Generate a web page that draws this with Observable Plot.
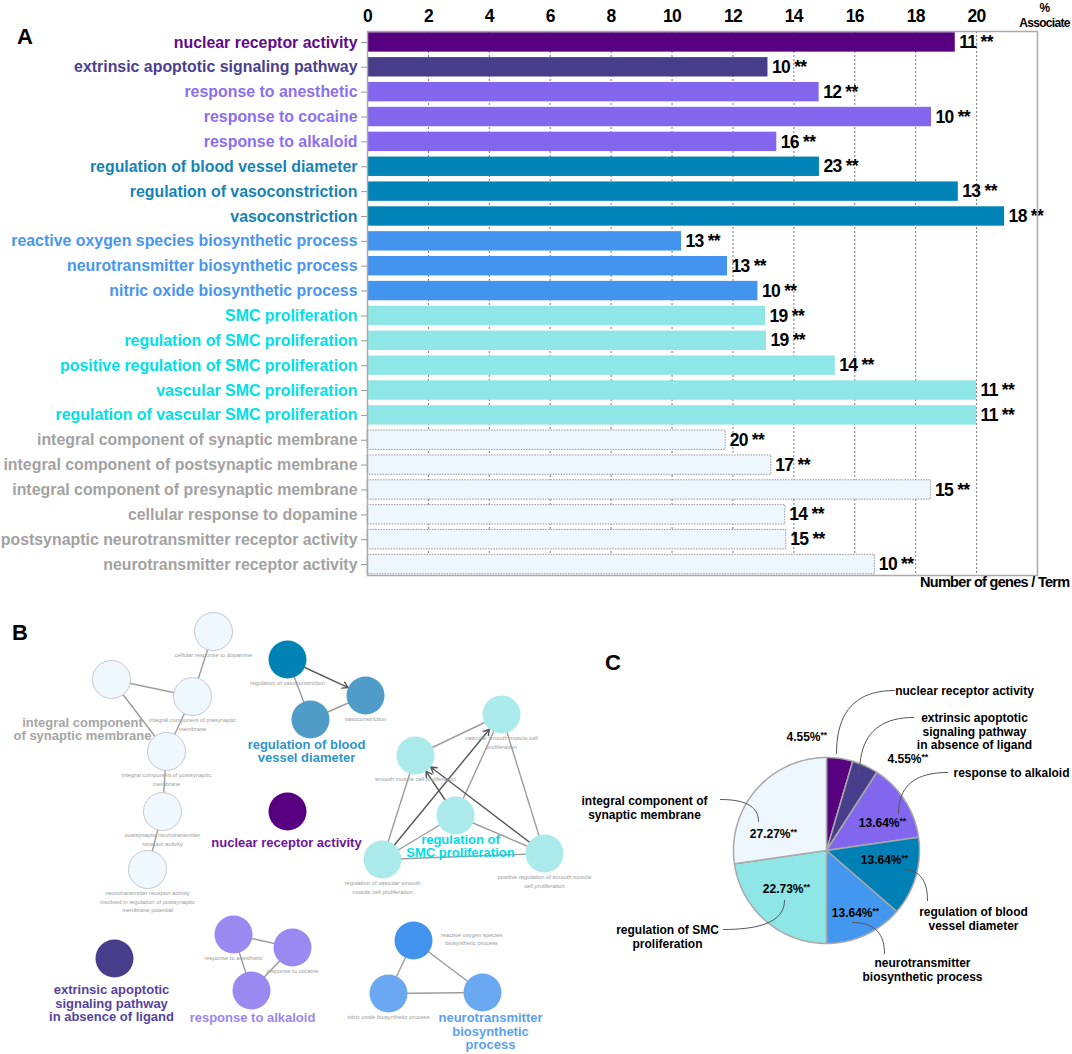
<!DOCTYPE html>
<html><head><meta charset="utf-8">
<script src="https://cdn.jsdelivr.net/npm/d3@7"></script>
<script src="https://cdn.jsdelivr.net/npm/@observablehq/plot@0.6"></script>
<style>
html,body{margin:0;padding:0;background:#fff;}
#wrap{position:relative;width:1072px;height:1054px;overflow:hidden;background:#fff;font-family:"Liberation Sans",Arial,sans-serif;}
#wrap svg{position:absolute;left:0;overflow:visible;}
.letter{position:absolute;font:bold 22px "Liberation Sans",Arial,sans-serif;color:#000;line-height:22px;}
.narrow text{letter-spacing:-0.7px;}
</style></head><body>
<div id="wrap">
  <div class="letter" style="left:17px;top:26px;">A</div>
  <div class="letter" style="left:12px;top:622px;">B</div>
  <div class="letter" style="left:605px;top:652px;">C</div>
</div>
<script>
// ---------------- Panel A data ----------------
const terms = ["nuclear receptor activity","extrinsic apoptotic signaling pathway","response to anesthetic","response to cocaine","response to alkaloid","regulation of blood vessel diameter","regulation of vasoconstriction","vasoconstriction","reactive oxygen species biosynthetic process","neurotransmitter biosynthetic process","nitric oxide biosynthetic process","SMC proliferation","regulation of SMC proliferation","positive regulation of SMC proliferation","vascular SMC proliferation","regulation of vascular SMC proliferation","integral component of synaptic membrane","integral component of postsynaptic membrane","integral component of presynaptic membrane","cellular response to dopamine","postsynaptic neurotransmitter receptor activity","neurotransmitter receptor activity"];
const percentAssociated = [19.3,13.15,14.83,18.52,13.44,14.84,19.4,20.92,10.31,11.82,12.82,13.07,13.1,15.36,20.0,20.0,11.76,13.26,18.5,13.72,13.75,16.66];
const geneCounts = [11,10,12,10,16,23,13,18,13,13,10,19,19,14,11,11,20,17,15,14,15,10];
const termGroups = ["nuclear","extrinsic","alkaloid","alkaloid","alkaloid","vessel","vessel","vessel","neuro","neuro","neuro","smc","smc","smc","smc","smc","integral","integral","integral","integral","integral","integral"];
const significance = terms.map(() => "**");
const xTicks = [0,2,4,6,8,10,12,14,16,18,20];

// ---------------- Panel B data ----------------
const nodeNames = ["cellular response to dopamine","integral component of synaptic membrane","integral component of presynaptic membrane","integral component of postsynaptic membrane","postsynaptic neurotransmitter receptor activity","neurotransmitter receptor activity involved in regulation of postsynaptic membrane potential","regulation of vasoconstriction","vasoconstriction","regulation of blood vessel diameter","nuclear receptor activity","extrinsic apoptotic signaling pathway in absence of ligand","response to anesthetic","response to cocaine","response to alkaloid","vascular smooth muscle cell proliferation","smooth muscle cell proliferation","regulation of SMC proliferation","regulation of vascular smooth muscle cell proliferation","positive regulation of smooth muscle cell proliferation","reactive oxygen species biosynthetic process","nitric oxide biosynthetic process","neurotransmitter biosynthetic process"];
const nodeGroups = ["integral","integral","integral","integral","integral","integral","vessel","vessel","vessel","nuclear","extrinsic","alkaloid","alkaloid","alkaloid","smc","smc","smc","smc","smc","neuro","neuro","neuro"];
const nodeEmphasis = [0,0,0,0,0,0,1,0,0,1,1,0,0,0,0,0,0,0,0,1,0,0];
const nodeCaptions = ["cellular response to dopamine","","integral component of presynaptic\nmembrane","integral component of postsynaptic\nmembrane","postsynaptic neurotransmitter\nreceptor activity","neurotransmitter receptor activity\ninvolved in regulation of postsynaptic\nmembrane potential","regulation of vasoconstriction","vasoconstriction","","","","response to anesthetic","response to cocaine","","vascular smooth muscle cell\nproliferation","smooth muscle cell proliferation","","regulation of vascular smooth\nmuscle cell proliferation","positive regulation of smooth muscle\ncell proliferation","reactive oxygen species\nbiosynthetic process","nitric oxide biosynthetic process",""];
const edgeSource = [0,1,1,2,3,4, 6,6,8, 11,11,12, 15,15,17,17,17,16,16,16,18,18, 19,19,20];
const edgeTarget = [2,2,3,3,4,5, 7,8,7, 12,13,13, 14,17,14,18,16,15,14,18,15,14, 20,21,21];
const edgeDirected = [0,0,0,0,0,0, 1,0,0, 0,0,0, 0,0,1,0,0,1,0,0,1,0, 0,0,0];
const clusterNames = ["integral component\nof synaptic membrane","regulation of blood\nvessel diameter","nuclear receptor activity","extrinsic apoptotic\nsignaling pathway\nin absence of ligand","response to alkaloid","regulation of\nSMC proliferation","neurotransmitter\nbiosynthetic\nprocess"];
const clusterGroups = ["integral","vessel","nuclear","extrinsic","alkaloid","smc","neuro"];

// ---------------- Panel C data ----------------
const pieTerms = ["nuclear receptor activity","extrinsic apoptotic\nsignaling pathway\nin absence of ligand","response to alkaloid","regulation of blood\nvessel diameter","neurotransmitter\nbiosynthetic process","regulation of SMC\nproliferation","integral component of\nsynaptic membrane"];
const piePercent = [4.55,4.55,13.64,13.64,13.64,22.73,27.27];
const pieGroups = ["nuclear","extrinsic","alkaloid","vessel","neuro","smc","integral"];

// ---------------- Layout (network + annotations), kept apart from data ----------------
const nodeLayout = [[213,631],[111,679],[192,696],[166,751],[162,811],[147,869],[287,659],[365,695],[310,719],[287,811],[114,958],[233,934],[292,947],[251,990],[501,714],[415,755],[455,815],[382,859],[544,853],[413,940],[388,993],[482,992]];
const captionRight = [19];
const clusterLayout = [[82,729],[306,751],[286,842],[111,1003],[252,1017],[460,846],[490,1031]];
const pieCenter = [826,850], pieRadius = 93;
const pieLabelLayout = [[964,690],[974,731],[1011,772],[973,918],[922,969],[667,936],[644,807]];
const piePctLayout = [[820,737],[921,759],[899,823],[901,860],[872,913],[803,889],[790,834]];
const leaderLayout = [[[894,690],[836,753],"h"],[[913,717],[859,773],"h"],[[947,772],[898,813],"h"],[[927,900],[902,869],"v"],[[884,953],[852,922],"v"],[[723,929],[784,900],"h"],[[720,799],[758,821],"h"]];

// ---------------- Styles ----------------
const barColor = {nuclear:"#570080",extrinsic:"#483d8b",alkaloid:"#8266ee",vessel:"#0083b6",neuro:"#4394ee",smc:"#8ee6e6",integral:"#eef7fd"};
const labelColor = {nuclear:"#5f0a8c",extrinsic:"#4a3f8e",alkaloid:"#8a6ff2",vessel:"#1683b6",neuro:"#4995ef",smc:"#00e0e6",integral:"#a2a2a2"};
const nodeColor = {nuclear:["#570080","#570080"],extrinsic:["#483d8b","#483d8b"],alkaloid:["#9b89f2","#9b89f2"],vessel:["#4f9cc9","#0082b5"],neuro:["#6ba8f2","#4193ee"],smc:["#aaeaea","#aaeaea"],integral:["#eff8fe","#eff8fe"]};
const clusterColor = {integral:"#a6a6a6",vessel:"#2f95c9",nuclear:"#6d1599",extrinsic:"#54449e",alkaloid:"#9a86f4",smc:"#00dde8",neuro:"#5c9ff2"};
const pieColor = {nuclear:"#570080",extrinsic:"#483d8b",alkaloid:"#8266ee",vessel:"#0080b4",neuro:"#4497ee",smc:"#8ee6e6",integral:"#eef7fe"};
const sans = '"Liberation Sans", Arial, sans-serif';

// ---------------- Panel A ----------------
const rows = terms.map((t, i) => ({term: t, pct: percentAssociated[i], n: geneCounts[i], group: termGroups[i], sig: significance[i]}));
const colored = rows.filter(d => d.group !== "integral");
const pale = rows.filter(d => d.group === "integral");

const plotA = Plot.plot({
  width: 1072, height: 600,
  marginLeft: 367, marginRight: 35, marginTop: 31, marginBottom: 25,
  style: {fontFamily: sans, background: "transparent", overflow: "visible"},
  x: {domain: [0, 22], axis: null},
  y: {domain: terms, axis: null, paddingInner: 0.22, paddingOuter: 0.05, round: false},
  color: {type: "identity"},
  marks: [
    Plot.gridX(xTicks.slice(1), {stroke: "#555", strokeOpacity: 0.8, strokeDasharray: "2,2", strokeWidth: 1}),
    Plot.barX(colored, {y: "term", x: "pct", fill: d => barColor[d.group]}),
    Plot.barX(pale, {y: "term", x: "pct", fill: barColor.integral, stroke: "#8a8a8a", strokeWidth: 0.9, strokeDasharray: "1.5,1.2"}),
    Plot.ruleX(pale, {x: "pct", y: "term", stroke: "#555", strokeWidth: 1.3}),
    Plot.axisY({tickSize: 6, tickFormat: () => "", stroke: "#999", label: null}),
    Plot.axisX(xTicks, {anchor: "top", tickSize: 0, tickPadding: 10, fontSize: 17.5, fontWeight: "bold", label: null, fill: "#000", className: "narrow"}),
    Plot.text(rows, {y: "term", frameAnchor: "left", text: "term", textAnchor: "end", dx: -10, fill: d => labelColor[d.group], fontSize: 15.9, fontWeight: "bold"}),
    Plot.text(rows, {y: "term", x: "pct", text: d => `${d.n} ${d.sig}`, textAnchor: "start", dx: 4, fontSize: 17.5, fontWeight: "bold", fill: "#000", className: "narrow"}),
    Plot.frame({stroke: "#aaa", strokeWidth: 1.5}),
    Plot.text(["%\nAssociate"], {text: d => d, frameAnchor: "top-right", dx: 7, dy: -30, lineAnchor: "top", textAnchor: "middle", fontSize: 12, fontWeight: "bold", lineHeight: 1.22, fill: "#000", className: "narrow"}),
    Plot.text(["Number of genes / Term"], {text: d => d, frameAnchor: "bottom-right", dx: 32, dy: 11, textAnchor: "end", fontSize: 14.5, fontWeight: "bold", fill: "#000", className: "narrow"})
  ]
});
plotA.style.top = "0px";
document.getElementById("wrap").appendChild(plotA);

// ---------------- Panel B + C ----------------
const nodes = nodeNames.map((name, i) => ({
  name, group: nodeGroups[i], caption: nodeCaptions[i],
  x: nodeLayout[i][0], y: nodeLayout[i][1],
  fill: nodeColor[nodeGroups[i]][nodeEmphasis[i]],
  right: captionRight.includes(i)
}));
const edges = edgeSource.map((s, i) => ({
  x1: nodes[s].x, y1: nodes[s].y, x2: nodes[edgeTarget[i]].x, y2: nodes[edgeTarget[i]].y, directed: !!edgeDirected[i]
}));
const clusters = clusterNames.map((t, i) => ({text: t, x: clusterLayout[i][0], y: clusterLayout[i][1], fill: clusterColor[clusterGroups[i]]}));

const arcs = d3.pie().sort(null).value(d => d)(piePercent);
const [cx, cy] = pieCenter;
const slicePts = arcs.flatMap((a, i) => {
  const pts = [{slice: i, x: cx, y: cy, fill: pieColor[pieGroups[i]]}];
  const n = Math.max(4, Math.ceil((a.endAngle - a.startAngle) / 0.02));
  for (let k = 0; k <= n; k++) {
    const t = a.startAngle + (a.endAngle - a.startAngle) * k / n;
    pts.push({slice: i, x: cx + pieRadius * Math.sin(t), y: cy - pieRadius * Math.cos(t), fill: pieColor[pieGroups[i]]});
  }
  pts.push({slice: i, x: cx, y: cy, fill: pieColor[pieGroups[i]]});
  return pts;
});
const leaderPts = leaderLayout.flatMap(([L, S, bend], i) => {
  const C = bend === "h" ? [S[0], L[1]] : [L[0], S[1]];
  return d3.range(0, 1.0001, 0.05).map(t => ({
    id: i,
    x: (1-t)*(1-t)*L[0] + 2*(1-t)*t*C[0] + t*t*S[0],
    y: (1-t)*(1-t)*L[1] + 2*(1-t)*t*C[1] + t*t*S[1]
  }));
});
const pieLabels = pieTerms.map((t, i) => ({text: t, x: pieLabelLayout[i][0], y: pieLabelLayout[i][1]}));
const piePct = piePercent.map((p, i) => ({text: d3.format(".2f")(p) + "%", x: piePctLayout[i][0], y: piePctLayout[i][1]}));

const plotBC = Plot.plot({
  width: 1072, height: 464, margin: 0,
  style: {fontFamily: sans, background: "transparent", overflow: "visible"},
  x: {domain: [0, 1072], range: [0, 1072], axis: null},
  y: {domain: [590, 1054], range: [0, 464], axis: null},
  color: {type: "identity"},
  marks: [
    Plot.link(edges.filter(d => !d.directed), {x1: "x1", y1: "y1", x2: "x2", y2: "y2", stroke: "#9c9c9c", strokeWidth: 1.4}),
    Plot.arrow(edges.filter(d => d.directed), {x1: "x1", y1: "y1", x2: "x2", y2: "y2", stroke: "#555", strokeWidth: 1.4, headLength: 7, insetEnd: 19}),
    Plot.dot(nodes, {x: "x", y: "y", r: 19, fill: "fill", stroke: d => d.group === "integral" ? "#c8c8c8" : "none", strokeWidth: 1}),
    Plot.text(nodes.filter(d => d.caption && !d.right), {x: "x", y: "y", text: "caption", dy: 20, lineAnchor: "top", fontSize: 5.8, lineHeight: 1.45, fill: "#9a9a9a"}),
    Plot.text(nodes.filter(d => d.caption && d.right), {x: "x", y: "y", text: "caption", dx: 58, dy: -2, fontSize: 5.8, lineHeight: 1.45, fill: "#9a9a9a"}),
    Plot.text(clusters, {x: "x", y: "y", text: "text", fill: "fill", fontSize: 13, fontWeight: "bold", lineHeight: 1.02}),
    // Panel C pie
    Plot.line(slicePts, {x: "x", y: "y", z: "slice", fill: "fill", stroke: "#a9a9a9", strokeWidth: 1.5, curve: "linear"}),
    Plot.line(leaderPts, {x: "x", y: "y", z: "id", stroke: "#555", strokeWidth: 1, curve: "linear"}),
    Plot.text(piePct, {x: "x", y: "y", text: "text", textAnchor: "end", fontSize: 12, fontWeight: "bold", fill: "#000"}),
    Plot.text(piePct, {x: "x", y: "y", text: () => "**", textAnchor: "start", dy: -2, fontSize: 8.5, fontWeight: "bold", fill: "#000"}),
    Plot.text(pieLabels, {x: "x", y: "y", text: "text", fontSize: 12, fontWeight: "bold", lineHeight: 1.12, fill: "#000"})
  ]
});
plotBC.style.top = "590px";
document.getElementById("wrap").appendChild(plotBC);
</script>
</body></html>
